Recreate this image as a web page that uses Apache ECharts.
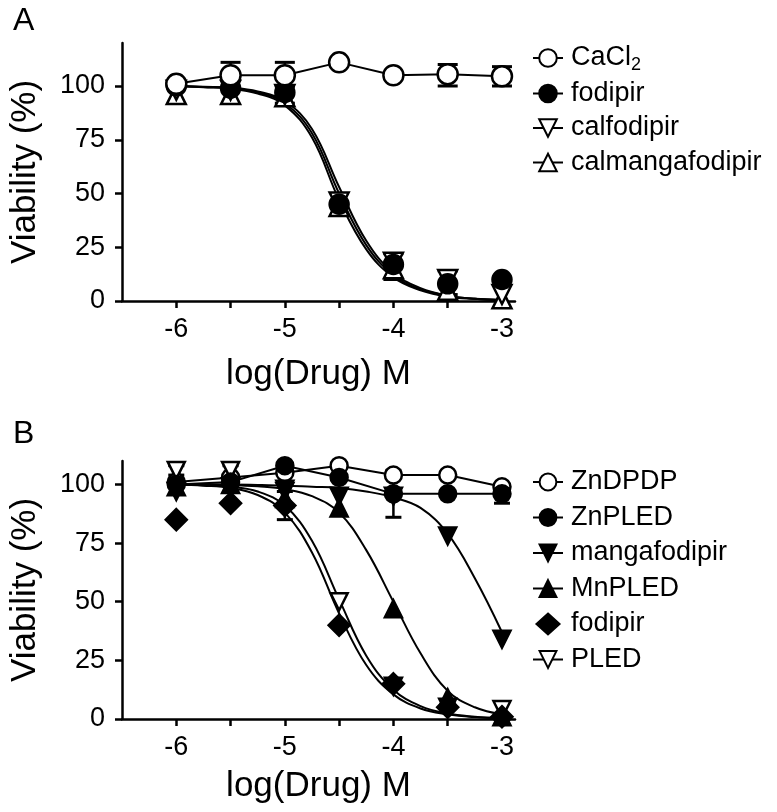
<!DOCTYPE html>
<html>
<head>
<meta charset="utf-8">
<script src="https://cdn.jsdelivr.net/npm/echarts@6/dist/echarts.min.js"></script>
<style>
html,body{margin:0;padding:0;background:#fff;}
#chart{width:777px;height:812px;}
</style>
</head>
<body>
<div id="chart"></div>
<script>
// ---------- data ----------
const doses = [-6, -5.5, -5, -4.5, -4, -3.5, -3];           // log(Drug) M
const xTickValues = [-6, -5.5, -5, -4.5, -4, -3.5, -3];
const xLabelValues = [-6, -5, -4, -3];
const yTickValues = [0, 25, 50, 75, 100];

// Panel A measured points
const aCaCl2 = [101, 105, 105, 111, 105, 105.5, 104.5];
const aFodipir = [100, 99, 97, 45, 17, 8, 10];
const aCalfodipir = [98, 98, 96, 46, 18, 10, 3];
const aCalmangafodipir = [96, 96, 95, 44, 15, 5, 1];

// Panel B measured points
const bZnDPDP = [101, 103, 105, 108, 104, 104, 99];
const bZnPLED = [100, 101, 108, 103, 96, 96, 96];
const bMangafodipir = [97, 99, 97, 95, 95, 78, 34];
const bMnPLED = [99, 100, 94, 90, 47, 9, 1];
const bFodipir = [85, 92, 91, 40, 15, 5, 1];
const bPLED = [106, 106, 98, 50, 14, 5, 4];

// fitted curves at these x positions
const curveX = [-6, -5.75, -5.5, -5.25, -5, -4.75, -4.5, -4.25, -4, -3.75, -3.5, -3.25, -3];
const aFitFodipir = [100, 99.5, 99, 97, 92, 78, 50, 26, 12, 5.5, 2.5, 1, 0.5];
const aFitCalfodipir = [100, 99.6, 99.2, 97.5, 93, 80, 53, 28, 13, 6, 2.5, 1, 0.5];
const aFitCalmangafodipir = [100, 99.4, 98.8, 96.5, 91, 76, 47, 24, 11, 5, 2, 1, 0.4];
const bFitMangafodipir = [100, 100, 100, 99.8, 99.5, 99, 98.5, 97, 94.5, 90, 79, 60, 37];
const bFitMnPLED = [100, 100, 99.8, 99.2, 98, 95, 88, 72, 50, 28, 12, 5, 2];
const bFitFodipir = [100, 99.5, 98.5, 95.5, 88, 71, 45, 23, 10.5, 4.5, 2, 0.8, 0.3];
const bFitPLED = [100, 99.7, 99, 97, 91, 76, 51, 27, 12.5, 5.5, 2.3, 1, 0.4];

// error bars: [x, low, high]
const aErrors = [[-5.5, 99, 111], [-5, 100, 111], [-3.5, 100, 110], [-3, 100, 109], [-5, 92, 100], [-4, 10, 22], [-3.5, 3, 14]];
const bErrors = [[-6, 104, 108], [-5.5, 104, 108], [-5, 85, 97], [-4, 86, 106], [-3, 92, 100]];

// ---------- chart ----------
const FONT = '"Liberation Sans", Arial, Helvetica, sans-serif';
const pts = (ys) => doses.map((x, i) => [x, ys[i]]);
const crv = (ys) => curveX.map((x, i) => [x, ys[i]]);

function xAxisCfg(gi, nameGap) {
  return {
    type: 'value', gridIndex: gi, min: -6.5, max: -2.88,
    name: 'log(Drug) M', nameLocation: 'middle', nameGap: nameGap,
    nameTextStyle: {fontSize: 35, color: '#000', fontFamily: FONT},
    axisLine: {show: true, onZero: false, lineStyle: {color: '#000', width: 2.5}},
    axisTick: {show: true, length: 7, lineStyle: {color: '#000', width: 2.5}, customValues: xTickValues},
    axisLabel: {customValues: xLabelValues, fontSize: 27, color: '#000', margin: 15, fontFamily: FONT},
    splitLine: {show: false}
  };
}
function yAxisCfg(gi, max) {
  return {
    type: 'value', gridIndex: gi, min: 0, max: max,
    name: 'Viability (%)', nameLocation: 'middle', nameGap: 79,
    nameTextStyle: {fontSize: 35, color: '#000', fontFamily: FONT},
    axisLine: {show: true, onZero: false, lineStyle: {color: '#000', width: 2.5}},
    axisTick: {show: true, length: 7, lineStyle: {color: '#000', width: 2.5}, customValues: yTickValues},
    axisLabel: {customValues: yTickValues, fontSize: 27, color: '#000', margin: 17, fontFamily: FONT},
    splitLine: {show: false}
  };
}
function dataSeries(gi, name, ys, symbol, rotate, filled, size, connected) {
  return {
    type: 'line', name: name, xAxisIndex: gi, yAxisIndex: gi,
    data: pts(ys), symbol: symbol, symbolRotate: rotate, symbolSize: size,
    showSymbol: true, clip: false, z: 5, silent: true,
    itemStyle: {color: filled ? '#000' : '#fff', borderColor: '#000', borderWidth: 2.5, opacity: 1},
    lineStyle: {color: '#000', width: 2, opacity: connected ? 1 : 0},
    emphasis: {disabled: true}
  };
}
function curveSeries(gi, ys) {
  return {
    type: 'line', xAxisIndex: gi, yAxisIndex: gi, data: crv(ys),
    smooth: 0.4, symbol: 'none', silent: true, z: 3,
    lineStyle: {color: '#000', width: 2}
  };
}
function errSeries(gi, data, cap) {
  return {
    type: 'custom', xAxisIndex: gi, yAxisIndex: gi, data: data, silent: true, z: 2,
    encode: {x: 0, y: [1, 2]},
    renderItem: function (params, api) {
      const x = api.value(0);
      const lo = api.coord([x, api.value(1)]);
      const hi = api.coord([x, api.value(2)]);
      const c = cap / 2;
      const st = {stroke: '#000', lineWidth: 2.5};
      return {type: 'group', children: [
        {type: 'line', shape: {x1: lo[0], y1: lo[1], x2: hi[0], y2: hi[1]}, style: st},
        {type: 'line', shape: {x1: lo[0] - c, y1: lo[1], x2: lo[0] + c, y2: lo[1]}, style: {stroke: '#000', lineWidth: 3}},
        {type: 'line', shape: {x1: hi[0] - c, y1: hi[1], x2: hi[0] + c, y2: hi[1]}, style: {stroke: '#000', lineWidth: 3}}
      ]};
    }
  };
}
const showLine = {lineStyle: {opacity: 1, width: 2, color: '#000'}};

const option = {
  backgroundColor: '#fff',
  animation: false,
  textStyle: {fontFamily: FONT},
  title: [
    {text: 'A', left: 8, top: 0, textStyle: {fontSize: 32, fontWeight: 'normal', color: '#000', fontFamily: FONT}},
    {text: 'B', left: 8, top: 413, textStyle: {fontSize: 32, fontWeight: 'normal', color: '#000', fontFamily: FONT}}
  ],
  grid: [
    {left: 116, top: 43, width: 399, height: 258},
    {left: 116, top: 461, width: 399, height: 258}
  ],
  xAxis: [xAxisCfg(0, 56), xAxisCfg(1, 50)],
  yAxis: [yAxisCfg(0, 120), yAxisCfg(1, 110)],
  legend: [
    {
      orient: 'vertical', left: 527, top: 38, itemWidth: 30, itemHeight: 22, itemGap: 4.5,
      selectedMode: false,
      textStyle: {fontSize: 27, color: '#000', fontFamily: FONT, lineHeight: 30, padding: [0, 0, 0, 3],
        rich: {sub: {fontSize: 18, fontFamily: FONT, color: '#000', padding: [14, 0, 0, 0]}}},
      formatter: function (n) { return n === 'CaCl2' ? 'CaCl{sub|2}' : n; },
      data: [
        {name: 'CaCl2'},
        Object.assign({name: 'fodipir'}, showLine),
        Object.assign({name: 'calfodipir'}, showLine),
        Object.assign({name: 'calmangafodipir'}, showLine)
      ]
    },
    {
      orient: 'vertical', left: 527, top: 462, itemWidth: 30, itemHeight: 21, itemGap: 5.5,
      selectedMode: false,
      textStyle: {fontSize: 27, color: '#000', fontFamily: FONT, lineHeight: 30, padding: [0, 0, 0, 3]},
      data: [
        {name: 'ZnDPDP'},
        {name: 'ZnPLED'},
        Object.assign({name: 'mangafodipir'}, showLine),
        Object.assign({name: 'MnPLED'}, showLine),
        {name: 'fodipir ', icon: 'path://M0,-1L1.1,0L0,1L-1.1,0Z'},
        Object.assign({name: 'PLED'}, showLine)
      ]
    }
  ],
  series: [
    // panel A
    errSeries(0, aErrors, 20),
    curveSeries(0, aFitCalmangafodipir),
    curveSeries(0, aFitCalfodipir),
    curveSeries(0, aFitFodipir),
    dataSeries(0, 'calmangafodipir', aCalmangafodipir, 'triangle', 0, false, 19, false),
    dataSeries(0, 'calfodipir', aCalfodipir, 'triangle', 180, false, 19, false),
    dataSeries(0, 'fodipir', aFodipir, 'circle', 0, true, 19, false),
    dataSeries(0, 'CaCl2', aCaCl2, 'circle', 0, false, 20, true),
    // panel B
    errSeries(1, bErrors, 16),
    curveSeries(1, bFitMangafodipir),
    curveSeries(1, bFitMnPLED),
    curveSeries(1, bFitFodipir),
    curveSeries(1, bFitPLED),
    dataSeries(1, 'ZnDPDP', bZnDPDP, 'circle', 0, false, 17, true),
    dataSeries(1, 'PLED', bPLED, 'triangle', 180, false, 17, false),
    dataSeries(1, 'ZnPLED', bZnPLED, 'circle', 0, true, 17, true),
    dataSeries(1, 'mangafodipir', bMangafodipir, 'triangle', 180, true, 17, false),
    dataSeries(1, 'MnPLED', bMnPLED, 'triangle', 0, true, 17, false),
    dataSeries(1, 'fodipir ', bFodipir, 'diamond', 0, true, 21, false)
  ]
};

const chart = echarts.init(document.getElementById('chart'), null, {renderer: 'canvas'});
chart.setOption(option);
</script>
</body>
</html>
